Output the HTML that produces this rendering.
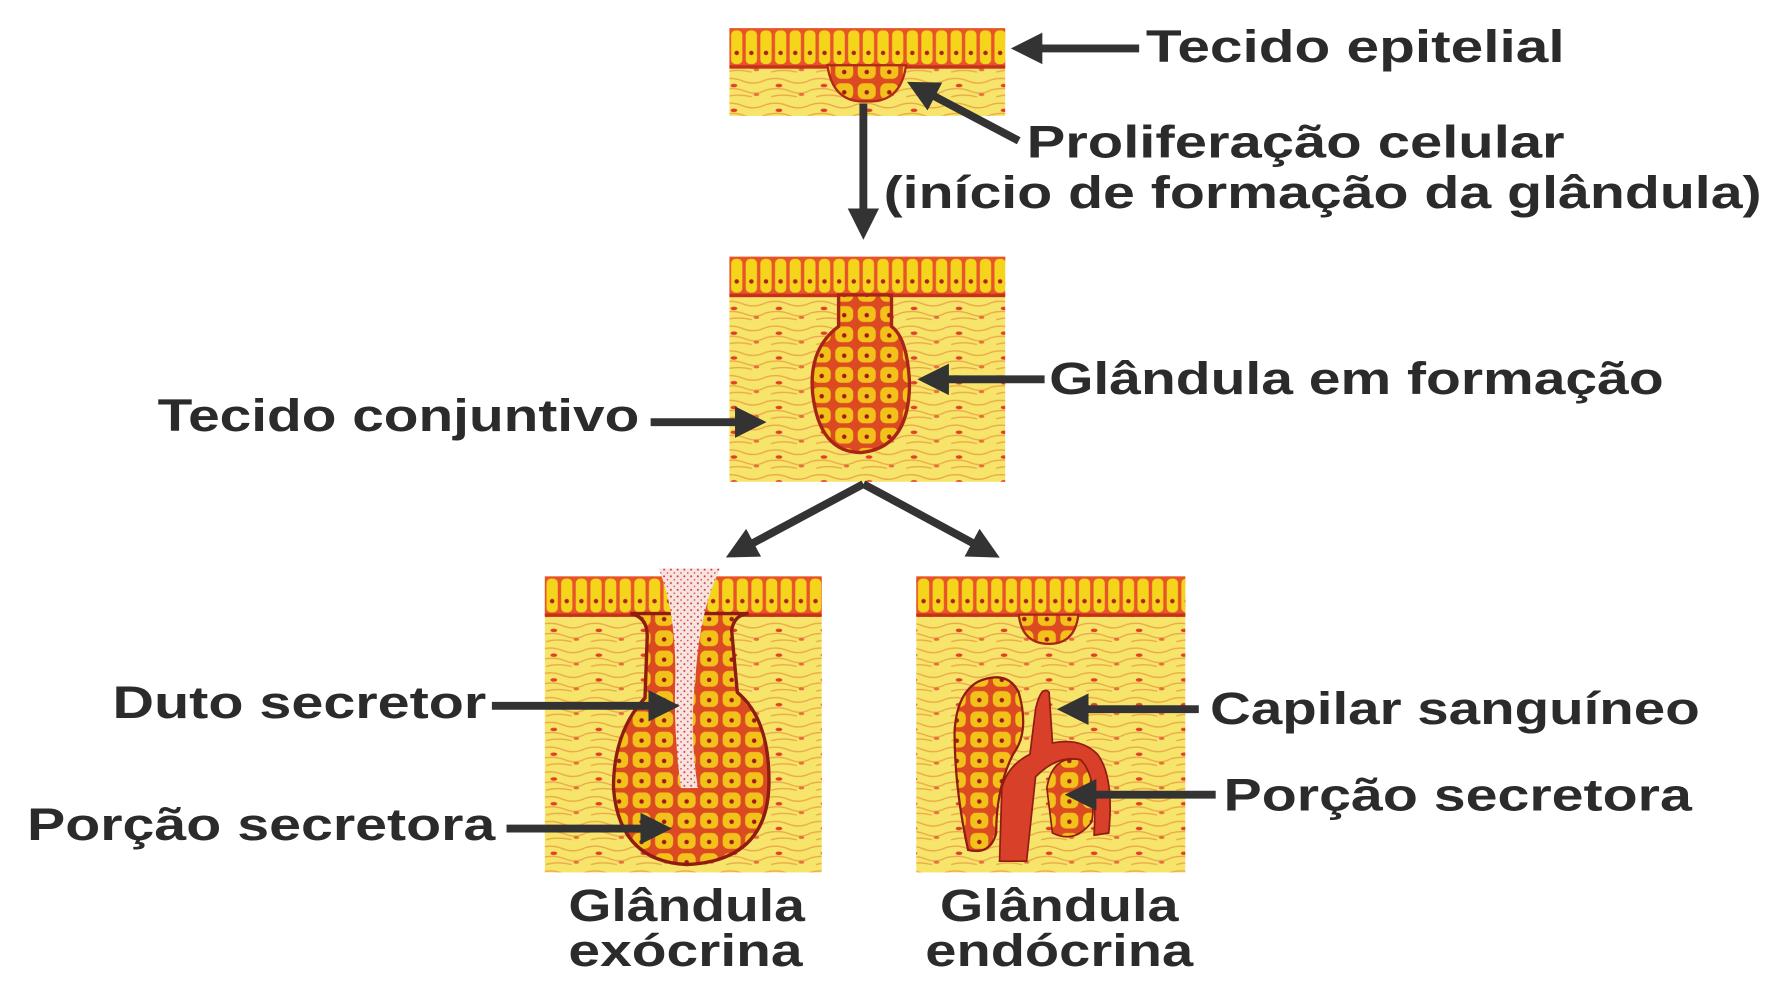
<!DOCTYPE html>
<html><head><meta charset="utf-8"><style>
html,body{margin:0;padding:0;background:#fff}
svg{display:block}
text{font-family:"Liberation Sans",sans-serif;font-weight:bold;fill:#2b2b2b}
</style></head><body>
<svg width="1765" height="1003" viewBox="0 0 1568 891" preserveAspectRatio="none" xmlns="http://www.w3.org/2000/svg">
<defs>
<pattern id="ct" width="40" height="22" patternUnits="userSpaceOnUse">
<rect width="40" height="22" fill="#f7e46a"/>
<path d="M0 5 Q10 2 20 6 T40 5 M0 14 Q12 11 22 15 T40 14 M5 20 Q15 17 28 20" stroke="#e89a40" stroke-width="1.2" fill="none" opacity=".8"/>
<ellipse cx="12" cy="10" rx="3" ry="1.5" fill="#e0402a"/>
<ellipse cx="32" cy="18" rx="2.5" ry="1.3" fill="#e0402a" opacity=".7"/>
</pattern>
<pattern id="ep" width="13" height="35" patternUnits="userSpaceOnUse">
<rect width="13" height="35" fill="#e8532a"/>
<rect x="1.5" y="2" width="10" height="30" rx="4" fill="#f4d51c"/>
<circle cx="6.5" cy="22" r="2" fill="#b0201a"/>
</pattern>
<pattern id="gl" width="20" height="18" patternUnits="userSpaceOnUse">
<rect width="20" height="18" fill="#dc4a22"/>
<rect x="2" y="2" width="16" height="14" rx="5" fill="#f2c21a"/>
<circle cx="10" cy="10" r="2" fill="#a01a12"/>
</pattern>
<pattern id="dots" width="6" height="6" patternUnits="userSpaceOnUse">
<rect width="6" height="6" fill="#f6e4e0"/>
<circle cx="2" cy="2" r="0.9" fill="#d83a3a"/>
<circle cx="5" cy="5" r="0.7" fill="#d83a3a"/>
</pattern>
<marker id="ah" markerWidth="4" markerHeight="4" refX="3" refY="2" orient="auto" markerUnits="strokeWidth">
<path d="M0 0 L4 2 L0 4 Z" fill="#333"/>
</marker>
</defs>

<!-- top panel -->
<rect x="648" y="25" width="245" height="78" fill="url(#ct)"/>
<g transform="translate(648,25)"><rect width="245" height="35" fill="url(#ep)"/></g>
<rect x="648" y="58" width="245" height="3" fill="#c4301c"/>
<path d="M735 58 Q740 92 770 90 Q800 92 805 58 Z" fill="url(#gl)" stroke="#b02818" stroke-width="2"/>

<!-- middle panel -->
<rect x="648" y="228" width="245" height="200" fill="url(#ct)"/>
<g transform="translate(648,228)"><rect width="245" height="35" fill="url(#ep)"/></g>
<rect x="648" y="261" width="245" height="3" fill="#c4301c"/>
<path d="M745 262 L745 290 Q718 310 722 350 Q728 402 765 402 Q808 398 808 340 Q806 300 792 290 L792 262 Z" fill="url(#gl)" stroke="#a82418" stroke-width="3"/>

<!-- bottom left panel -->
<rect x="484" y="512" width="246" height="263" fill="url(#ct)"/>
<g transform="translate(484,512)"><rect width="246" height="35" fill="url(#ep)"/></g>
<rect x="484" y="545" width="246" height="3" fill="#c4301c"/>
<path d="M560 545 Q575 548 575 565 L573 620 Q545 650 545 700 Q550 765 610 768 Q680 765 683 700 Q685 640 655 615 L650 560 Q652 546 665 545 Z" fill="url(#gl)" stroke="#8e1c12" stroke-width="3"/>
<path d="M585 505 Q600 540 600 600 Q598 650 605 700 L620 700 Q612 650 618 600 Q622 540 640 505 Z" fill="url(#dots)"/>

<!-- bottom right panel -->
<rect x="814" y="512" width="239" height="263" fill="url(#ct)"/>
<g transform="translate(814,512)"><rect width="239" height="35" fill="url(#ep)"/></g>
<rect x="814" y="545" width="239" height="3" fill="#c4301c"/>
<path d="M905 546 Q908 572 932 572 Q955 572 958 546 Z" fill="url(#gl)" stroke="#a82418" stroke-width="2"/>
<path d="M870 605 Q895 595 905 615 Q915 650 900 670 Q885 700 885 740 Q880 760 860 755 Q848 700 848 650 Q850 615 870 605 Z" fill="url(#gl)" stroke="#8e1c12" stroke-width="2"/>
<path d="M888 765 L890 700 Q895 680 915 670 L920 630 Q925 608 932 615 L935 660 Q960 655 975 670 Q990 690 985 740 L972 742 Q975 690 960 675 Q940 670 920 690 L912 765 Z" fill="#d9402a" stroke="#8e1c12" stroke-width="1.5"/>
<path d="M930 700 Q935 670 960 675 Q975 690 970 730 Q955 750 935 740 Z" fill="url(#gl)" stroke="#8e1c12" stroke-width="1.5"/>

<!-- arrows -->
<g stroke="#333" stroke-width="7" fill="none" marker-end="url(#ah)">
<line x1="1012" y1="43" x2="905" y2="43"/>
<line x1="905" y1="125" x2="812" y2="76"/>
<line x1="767" y1="92" x2="767" y2="206"/>
<line x1="928" y1="337" x2="822" y2="337"/>
<line x1="578" y1="375" x2="674" y2="375"/>
<line x1="767" y1="430" x2="651" y2="492"/>
<line x1="767" y1="430" x2="882" y2="492"/>
<line x1="437" y1="627" x2="597" y2="627"/>
<line x1="450" y1="736" x2="590" y2="736"/>
<line x1="1065" y1="630" x2="946" y2="630"/>
<line x1="1080" y1="706" x2="953" y2="706"/>
</g>

<!-- labels -->
<g font-size="40">
<text x="1018" y="55" textLength="372" lengthAdjust="spacingAndGlyphs">Tecido epitelial</text>
<text x="912" y="140" textLength="478" lengthAdjust="spacingAndGlyphs">Proliferação celular</text>
<text x="785" y="185" textLength="780" lengthAdjust="spacingAndGlyphs">(início de formação da glândula)</text>
<text x="932" y="350" textLength="546" lengthAdjust="spacingAndGlyphs">Glândula em formação</text>
<text x="140" y="383" textLength="428" lengthAdjust="spacingAndGlyphs">Tecido conjuntivo</text>
<text x="100" y="638" textLength="332" lengthAdjust="spacingAndGlyphs">Duto secretor</text>
<text x="24" y="746" textLength="416" lengthAdjust="spacingAndGlyphs">Porção secretora</text>
<text x="1075" y="643" textLength="435" lengthAdjust="spacingAndGlyphs">Capilar sanguíneo</text>
<text x="1087" y="720" textLength="416" lengthAdjust="spacingAndGlyphs">Porção secretora</text>
<text x="505" y="818" textLength="210" lengthAdjust="spacingAndGlyphs">Glândula</text>
<text x="505" y="858" textLength="208" lengthAdjust="spacingAndGlyphs">exócrina</text>
<text x="835" y="818" textLength="212" lengthAdjust="spacingAndGlyphs">Glândula</text>
<text x="822" y="858" textLength="238" lengthAdjust="spacingAndGlyphs">endócrina</text>
</g>
</svg>
</body></html>
